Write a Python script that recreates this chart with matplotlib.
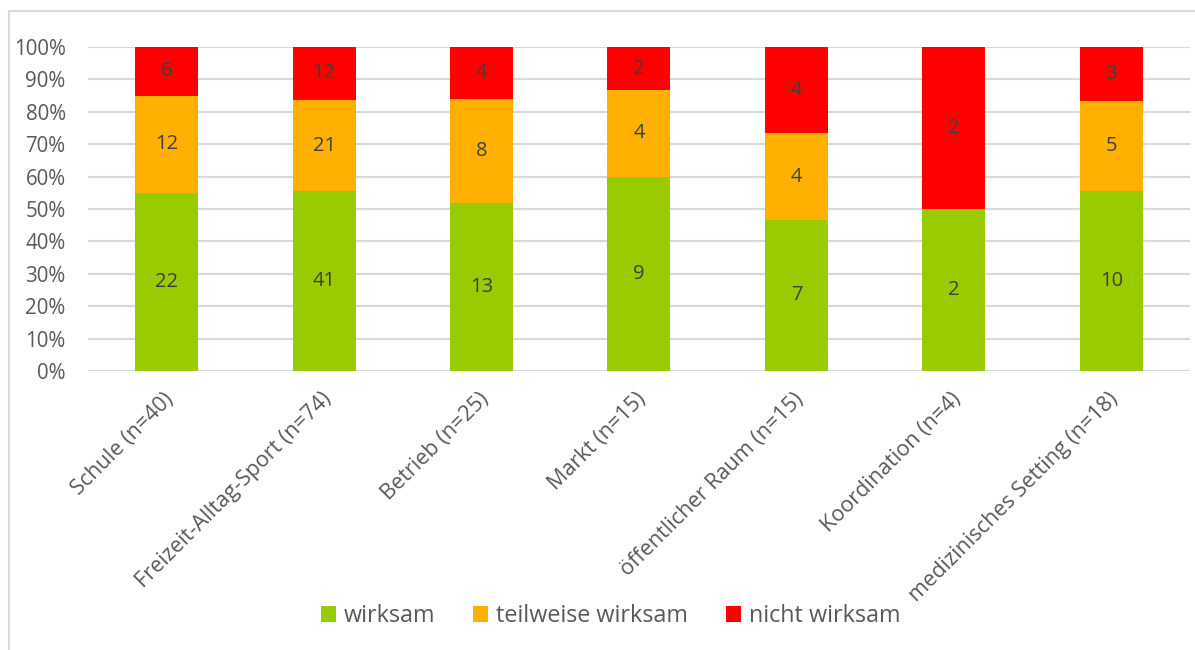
import matplotlib.pyplot as plt
import matplotlib.transforms as mtrans
import numpy as np
from matplotlib.patches import Rectangle

plt.rcParams['font.family'] = ['Open Sans', 'DejaVu Sans']

categories = ["Schule (n=40)", "Freizeit-Alltag-Sport (n=74)", "Betrieb (n=25)",
              "Markt (n=15)", "öffentlicher Raum (n=15)", "Koordination (n=4)",
              "medizinisches Setting (n=18)"]
wirksam = [22, 41, 13, 9, 7, 2, 10]
teilweise = [12, 21, 8, 4, 4, 0, 5]
nicht = [6, 12, 4, 2, 4, 2, 3]

series = [("wirksam", wirksam, "#99CC00"),
          ("teilweise wirksam", teilweise, "#FFB000"),
          ("nicht wirksam", nicht, "#FF0000")]

totals = np.array(wirksam) + np.array(teilweise) + np.array(nicht)

fig = plt.figure(figsize=(11.95, 6.5), dpi=100)
ax = fig.add_axes([0.0736, 0.4292, 0.9222, 0.4985])

x = np.arange(len(categories))
bottom = np.zeros(len(categories))
for name, vals, col in series:
    share = np.array(vals) / totals
    ax.bar(x, share, 0.4, bottom=bottom, color=col, label=name, zorder=3)
    for xi, v, s, b in zip(x, vals, share, bottom):
        if v > 0:
            ax.text(xi, b + s / 2, str(v), ha='center', va='center',
                    fontsize=14.5, color='#404040', zorder=4)
    bottom += share

ax.set_xlim(-0.5, len(categories) - 0.5)
ax.set_ylim(0, 1)
ax.set_yticks(np.arange(0, 1.01, 0.1))
ax.set_yticklabels([f"{int(round(t * 100))}%" for t in np.arange(0, 1.01, 0.1)],
                   fontsize=14.8, color='#595959')
ax.yaxis.grid(True, color='#D9D9D9', linewidth=1.5, zorder=0)
ax.set_xticks(x)
ax.set_xticklabels(categories, rotation=45, ha='right', rotation_mode='anchor',
                   va='center', fontsize=15.6, color='#595959')
ax.tick_params(axis='both', length=0)
ax.tick_params(axis='y', pad=16)
ax.tick_params(axis='x', pad=18)
shift = mtrans.ScaledTranslation(0.04, 0, fig.dpi_scale_trans)
for lbl in ax.get_xticklabels():
    lbl.set_transform(lbl.get_transform() + shift)
for sp in ax.spines.values():
    sp.set_visible(False)

leg = fig.legend(loc='center', bbox_to_anchor=(0.511, 0.052), ncol=3, frameon=False,
                 fontsize=16.8, handlelength=0.65, handleheight=0.65, handletextpad=0.35,
                 columnspacing=1.6)
for t in leg.get_texts():
    t.set_color('#595959')

# chart frame
fig.patches.append(Rectangle((9 / 1195, -0.1), 1.2, 1.1 - 11 / 650,
                             transform=fig.transFigure, fill=False,
                             edgecolor='#D9D9D9', linewidth=1.5))

fig.savefig("out.png", dpi=100)
